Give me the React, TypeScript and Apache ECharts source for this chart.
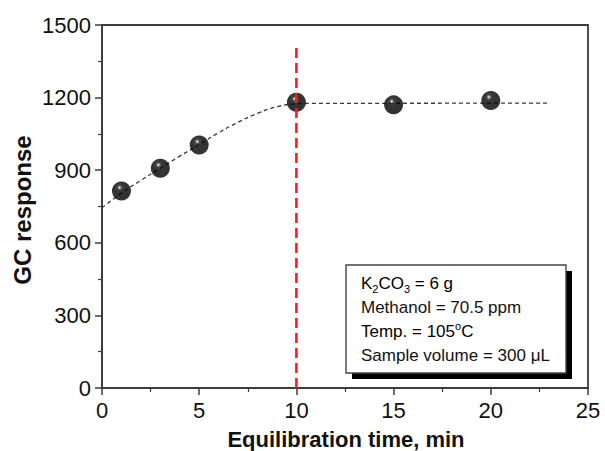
import React, { useEffect, useRef } from "react";
import * as echarts from "echarts";

const timeMin = [1, 3, 5, 10, 15, 20];
const gcResponse = [814, 908, 1004, 1181, 1170, 1188];

const fitTime = [0, 1, 2, 3, 4, 5, 6, 7, 8, 9, 10, 11, 23];
const fitResponse = [745, 805, 858, 908, 958, 1006, 1055, 1098, 1135, 1162, 1174, 1176, 1177];

const markerTime = [10, 10];
const markerResponse = [0, 1410];

const xTicks = [0, 5, 10, 15, 20, 25];
const yTicks = [0, 300, 600, 900, 1200, 1500];

const xTitle = "Equilibration time, min";
const yTitle = "GC response";

const FONT = "'Liberation Sans', Arial, Helvetica, sans-serif";

export default function App() {
  const ref = useRef<HTMLDivElement>(null);

  useEffect(() => {
    if (!ref.current) return;
    const chart = echarts.init(ref.current, undefined, { renderer: "svg" });

    const ball = new echarts.graphic.RadialGradient(0.4, 0.32, 0.62, [
      { offset: 0, color: "#f0f0f0" },
      { offset: 0.08, color: "#9a9a9a" },
      { offset: 0.2, color: "#141414" },
      { offset: 0.45, color: "#000000" },
      { offset: 1, color: "#000000" },
    ]);

    const axisLine = { show: true, lineStyle: { color: "#3c3c3c", width: 1.8 } };

    const mainRich = { fontSize: 17, lineHeight: 22, fontFamily: FONT, color: "#111" };
    const subRich = { fontSize: 11, fontFamily: FONT, color: "#111", verticalAlign: "bottom" };
    const supRich = { fontSize: 11, fontFamily: FONT, color: "#111", verticalAlign: "top" };

    const boxX = 346, boxY = 265, boxW = 220, boxH = 108;
    const textX = 361;

    chart.setOption({
      animation: false,
      backgroundColor: "#ffffff",
      grid: {
        left: 102,
        right: 17,
        top: 25,
        bottom: 63,
        show: true,
        borderColor: "#3c3c3c",
        borderWidth: 1.8,
        backgroundColor: "transparent",
      },
      xAxis: {
        type: "value",
        min: xTicks[0],
        max: xTicks[xTicks.length - 1],
        interval: 5,
        axisLine,
        axisTick: { show: true, length: 7, inside: false, lineStyle: { color: "#3c3c3c", width: 1.5 } },
        minorTick: { show: true, splitNumber: 2, length: 4, lineStyle: { color: "#3c3c3c", width: 1.2 } },
        splitLine: { show: false },
        axisLabel: { margin: 11, fontSize: 22, fontFamily: FONT, color: "#111" },
      },
      yAxis: {
        type: "value",
        min: yTicks[0],
        max: yTicks[yTicks.length - 1],
        interval: 300,
        axisLine,
        axisTick: { show: true, length: 7, inside: false, lineStyle: { color: "#3c3c3c", width: 1.5 } },
        minorTick: { show: true, splitNumber: 2, length: 4, lineStyle: { color: "#3c3c3c", width: 1.2 } },
        splitLine: { show: false },
        axisLabel: {
          margin: 11,
          fontSize: 22,
          fontFamily: FONT,
          color: "#111",
          formatter: (v: number) => String(v),
        },
      },
      series: [
        {
          type: "line",
          data: fitTime.map((t, i) => [t, fitResponse[i]]),
          smooth: true,
          showSymbol: false,
          symbol: "none",
          lineStyle: { color: "#3a3a3a", width: 1.3, type: [4, 3] },
          z: 2,
        },
        {
          type: "scatter",
          data: timeMin.map((t, i) => [t, gcResponse[i]]),
          symbol: "circle",
          symbolSize: 19,
          itemStyle: { color: ball },
          z: 3,
        },
        {
          type: "line",
          data: markerTime.map((t, i) => [t, markerResponse[i]]),
          showSymbol: false,
          symbol: "none",
          lineStyle: { color: "#ff1a1a", width: 2.6, type: [10, 5] },
          z: 4,
        },
      ],
      graphic: [
        {
          type: "rect",
          shape: { x: boxX + 6, y: boxY + 6, width: boxW, height: boxH },
          style: { fill: "#000" },
          z: 10,
        },
        {
          type: "rect",
          shape: { x: boxX, y: boxY, width: boxW, height: boxH },
          style: { fill: "#fff", stroke: "#444", lineWidth: 1.4 },
          z: 11,
        },
        {
          type: "text",
          x: textX,
          y: 283,
          z: 12,
          style: {
            text: "{m|K}{s|2}{m|CO}{s|3}{m| = 6 g}",
            rich: { m: mainRich, s: subRich },
            verticalAlign: "middle",
            align: "left",
          },
        },
        {
          type: "text",
          x: textX,
          y: 307.5,
          z: 12,
          style: {
            text: "Methanol = 70.5 ppm",
            font: `17px ${FONT}`,
            fill: "#111",
            verticalAlign: "middle",
            align: "left",
          },
        },
        {
          type: "text",
          x: textX,
          y: 331.5,
          z: 12,
          style: {
            text: "{m|Temp. = 105}{p|o}{m|C}",
            rich: { m: mainRich, p: supRich },
            verticalAlign: "middle",
            align: "left",
          },
        },
        {
          type: "text",
          x: textX,
          y: 355,
          z: 12,
          style: {
            text: "Sample volume = 300 μL",
            font: `17px ${FONT}`,
            fill: "#111",
            verticalAlign: "middle",
            align: "left",
          },
        },
        {
          type: "text",
          x: 346,
          y: 439,
          z: 12,
          style: {
            text: xTitle,
            font: `bold 22px ${FONT}`,
            fill: "#111",
            align: "center",
            verticalAlign: "middle",
          },
        },
        {
          type: "text",
          x: 22,
          y: 210,
          rotation: Math.PI / 2,
          z: 12,
          style: {
            text: yTitle,
            font: `bold 24px ${FONT}`,
            fill: "#111",
            align: "center",
            verticalAlign: "middle",
          },
        },
      ],
    });

    return () => chart.dispose();
  }, []);

  return (
    <div
      ref={ref}
      style={{ position: "fixed", left: 0, top: 0, width: 605, height: 451, background: "#fff" }}
    />
  );
}
